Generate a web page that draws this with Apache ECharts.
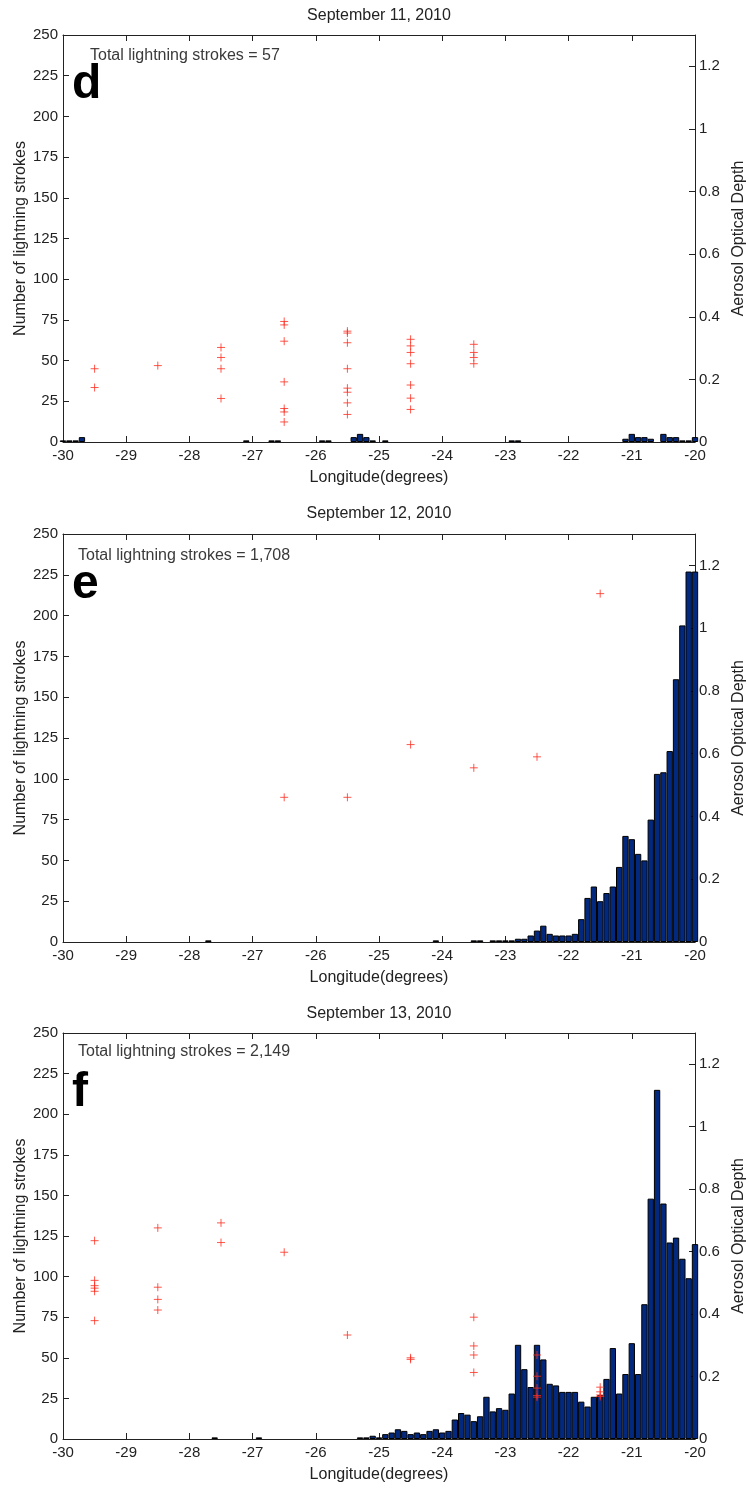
<!DOCTYPE html>
<html>
<head>
<meta charset="utf-8">
<script src="https://cdn.jsdelivr.net/npm/echarts@6/dist/echarts.min.js"></script>
<style>
  html, body { margin: 0; padding: 0; background: #fff; }
  #chart { width: 749px; height: 1492px; }
</style>
</head>
<body>
<div id="chart"></div>
<script>
// Histogram bins: centres from -30.0 to -20.0 degrees in 0.1 degree steps (101 bins)
const binStart = -30;
const binStep = 0.1;

// Lightning strokes per 0.1 degree longitude bin
const countsSep11 = [
  1, 1, 1, 3, 0, 0, 0, 0, 0, 0,
  0, 0, 0, 0, 0, 0, 0, 0, 0, 0,
  0, 0, 0, 0, 0, 0, 0, 0, 0, 1,
  0, 0, 0, 1, 1, 0, 0, 0, 0, 0,
  0, 1, 1, 0, 0, 0, 3, 5, 3, 1,
  0, 1, 0, 0, 0, 0, 0, 0, 0, 0,
  0, 0, 0, 0, 0, 0, 0, 0, 0, 0,
  0, 1, 1, 0, 0, 0, 0, 0, 0, 0,
  0, 0, 0, 0, 0, 0, 0, 0, 0, 2,
  5, 3, 3, 2, 0, 5, 3, 3, 1, 1,
  3
];
const countsSep12 = [
  0, 0, 0, 0, 0, 0, 0, 0, 0, 0,
  0, 0, 0, 0, 0, 0, 0, 0, 0, 0,
  0, 0, 0, 1, 0, 0, 0, 0, 0, 0,
  0, 0, 0, 0, 0, 0, 0, 0, 0, 0,
  0, 0, 0, 0, 0, 0, 0, 0, 0, 0,
  0, 0, 0, 0, 0, 0, 0, 0, 0, 1,
  0, 0, 0, 0, 0, 1, 1, 0, 1, 1,
  1, 1, 2, 2, 4, 7, 10, 5, 4, 4,
  4, 5, 14, 27, 34, 25, 30, 34, 46, 65,
  63, 54, 50, 75, 103, 104, 117, 161, 194, 227,
  227
];
const countsSep13 = [
  0, 0, 0, 0, 0, 0, 0, 0, 0, 0,
  0, 0, 0, 0, 0, 0, 0, 0, 0, 0,
  0, 0, 0, 0, 1, 0, 0, 0, 0, 0,
  0, 1, 0, 0, 0, 0, 0, 0, 0, 0,
  0, 0, 0, 0, 0, 0, 0, 1, 1, 2,
  1, 3, 4, 6, 5, 3, 4, 3, 5, 6,
  4, 5, 12, 16, 15, 11, 14, 26, 17, 19,
  18, 28, 58, 43, 32, 58, 49, 34, 33, 29,
  29, 29, 23, 20, 26, 27, 37, 56, 28, 40,
  59, 40, 83, 148, 215, 145, 121, 124, 111, 99,
  120
];

// Aerosol optical depth retrievals, grouped by the 1-degree column they fall in
const aodLon = [-29.5, -28.5, -27.5, -26.5, -25.5, -24.5, -23.5, -22.5, -21.5];
const aodSep11 = [
  [0.234, 0.174],
  [0.244],
  [0.302, 0.270, 0.234, 0.139],
  [0.385, 0.374, 0.322, 0.192, 0.107, 0.096, 0.064],
  [0.354, 0.348, 0.317, 0.234, 0.172, 0.159, 0.125, 0.088],
  [0.328, 0.307, 0.286, 0.250, 0.182, 0.140, 0.104],
  [0.312, 0.286, 0.270, 0.250],
  [],
  []
];
const aodSep12 = [
  [], [], [],
  [0.461],
  [0.461],
  [0.629],
  [0.555],
  [0.590],
  [1.110]
];
const aodSep13 = [
  [0.635, 0.508, 0.491, 0.483, 0.473, 0.379],
  [0.676, 0.486, 0.447, 0.413],
  [0.692, 0.629],
  [0.598],
  [0.333],
  [0.260, 0.255],
  [0.390, 0.298, 0.269, 0.213],
  [0.269, 0.201, 0.163, 0.139, 0.134],
  [0.166, 0.151, 0.141, 0.136]
];

// Axis ranges and ticks
const lonMin = -30, lonMax = -20, lonStep = 1;
const strokesMin = 0, strokesMax = 250, strokesStep = 25;
const aodMin = 0, aodMax = 1.3, aodStep = 0.2;

const panelTitles = ['September 11, 2010', 'September 12, 2010', 'September 13, 2010'];
const totalLabels = ['Total lightning strokes = 57', 'Total lightning strokes = 1,708', 'Total lightning strokes = 2,149'];
const panelLetters = ['d', 'e', 'f'];

const FONT = '"Liberation Sans", Arial, Helvetica, sans-serif';
const INK = '#222';
const BAR_FILL = '#03297f';
const MARK_RED = '#ff2d1f';

const gridLeft = 63;
const gridWidth = 632;
const layout = [
  { top: 35,   height: 407, titleY: 16,   totalX: 90, totalY: 56,   letterY: 85 },
  { top: 534,  height: 408, titleY: 514,  totalX: 78, totalY: 556,  letterY: 585 },
  { top: 1033, height: 406, titleY: 1014, totalX: 78, totalY: 1052, letterY: 1093 }
];

const countSets = [countsSep11, countsSep12, countsSep13];
const aodSets = [aodSep11, aodSep12, aodSep13];

const grids = [], xAxes = [], yAxes = [], series = [], graphics = [];

const tickStyle = { show: true, inside: true, length: 6, lineStyle: { color: INK, width: 1 } };
const lineStyle = { show: true, onZero: false, lineStyle: { color: INK, width: 1 } };
const labelStyle = { color: INK, fontSize: 15, fontFamily: FONT };
const nameStyle = { color: INK, fontSize: 16, fontFamily: FONT };

layout.forEach((L, p) => {
  grids.push({
    left: gridLeft, top: L.top, width: gridWidth, height: L.height,
    containLabel: false, outerBoundsMode: 'none'
  });

  // bottom longitude axis with labels
  xAxes.push({
    type: 'value', gridIndex: p, position: 'bottom',
    min: lonMin, max: lonMax, interval: lonStep,
    axisLine: lineStyle, axisTick: tickStyle, splitLine: { show: false },
    axisLabel: Object.assign({ margin: 6 }, labelStyle),
    name: 'Longitude(degrees)', nameLocation: 'middle', nameGap: 28,
    nameMoveOverlap: false, nameTextStyle: nameStyle
  });
  // top frame edge with ticks only
  xAxes.push({
    type: 'value', gridIndex: p, position: 'top',
    min: lonMin, max: lonMax, interval: lonStep,
    axisLine: lineStyle, axisTick: tickStyle, splitLine: { show: false },
    axisLabel: { show: false }
  });

  yAxes.push({
    type: 'value', gridIndex: p, position: 'left',
    min: strokesMin, max: strokesMax, interval: strokesStep,
    axisLine: lineStyle, axisTick: tickStyle, splitLine: { show: false },
    axisLabel: Object.assign({ margin: 5 }, labelStyle),
    name: 'Number of lightning strokes', nameLocation: 'middle', nameRotate: 90,
    nameGap: 34, nameMoveOverlap: false, nameTextStyle: nameStyle
  });
  yAxes.push({
    type: 'value', gridIndex: p, position: 'right',
    min: aodMin, max: aodMax, interval: aodStep,
    axisLine: lineStyle, axisTick: tickStyle, splitLine: { show: false },
    axisLabel: Object.assign({
      margin: 4, showMaxLabel: false,
      formatter: v => String(Math.round(v * 10) / 10)
    }, labelStyle),
    name: 'Aerosol Optical Depth', nameLocation: 'middle', nameRotate: 90,
    nameGap: 32, nameTextStyle: nameStyle
  });

  const counts = countSets[p];
  const barData = [];
  counts.forEach((c, i) => {
    if (c > 0) barData.push([+(binStart + i * binStep).toFixed(1), c]);
  });
  series.push({
    type: 'bar', xAxisIndex: 2 * p, yAxisIndex: 2 * p, clip: true,
    barWidth: gridWidth / (lonMax - lonMin) * binStep,
    itemStyle: { color: BAR_FILL, borderColor: '#000', borderWidth: 1 },
    data: barData
  });

  const aodData = [];
  aodSets[p].forEach((vals, k) => vals.forEach(v => aodData.push([aodLon[k], v])));
  series.push({
    type: 'scatter', xAxisIndex: 2 * p, yAxisIndex: 2 * p + 1,
    symbol: 'path://M0,5L10,5M5,0L5,10', symbolSize: 8,
    itemStyle: { color: MARK_RED, borderColor: MARK_RED, borderWidth: 1 },
    data: aodData
  });

  graphics.push({
    type: 'text', x: gridLeft + gridWidth / 2, y: L.titleY,
    style: { text: panelTitles[p], font: '16px ' + FONT, fill: INK,
      textAlign: 'center', align: 'center', textVerticalAlign: 'middle', verticalAlign: 'middle' }
  });
  graphics.push({
    type: 'text', x: L.totalX, y: L.totalY,
    style: { text: totalLabels[p], font: '16px ' + FONT, fill: '#3a3a3a',
      textAlign: 'left', align: 'left', textVerticalAlign: 'middle', verticalAlign: 'middle' }
  });
  graphics.push({
    type: 'text', x: 72, y: L.letterY,
    style: { text: panelLetters[p], font: 'bold 48px ' + FONT, fill: '#000',
      textAlign: 'left', align: 'left', textVerticalAlign: 'middle', verticalAlign: 'middle' }
  });
});

const chart = echarts.init(document.getElementById('chart'), null, { renderer: 'canvas' });
chart.setOption({
  animation: false,
  backgroundColor: '#fff',
  grid: grids,
  xAxis: xAxes,
  yAxis: yAxes,
  series: series,
  graphic: graphics
});
</script>
</body>
</html>
